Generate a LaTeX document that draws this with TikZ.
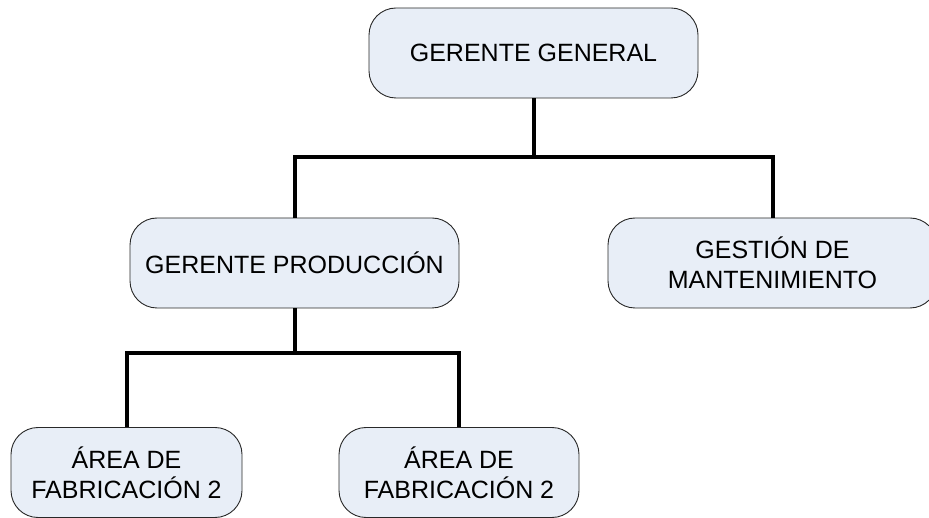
\documentclass[tikz,border=0pt]{standalone}
\usepackage{fontspec}
\setmainfont{Liberation Sans}
\definecolor{boxfill}{RGB}{232,238,247}
\definecolor{boxline}{RGB}{40,40,40}
\begin{document}
\begin{tikzpicture}[x=1pt,y=-1pt,line join=miter,
  cargo/.style={draw=boxline,line width=0.9pt,fill=boxfill,rounded corners=27pt,
    minimum height=90pt,inner sep=0pt,align=center,
    font=\fontsize{25}{30}\selectfont},
  enlace/.style={line width=4pt,black}]
 \useasboundingbox(0,0)rectangle(929,518);
 \node[cargo,minimum width=329pt](gg)at(533.5,53){GERENTE GENERAL};
 \node[cargo,minimum width=329pt](gp)at(294.5,263){GERENTE PRODUCCIÓN};
 \node[cargo,minimum width=329pt](gm)at(772.5,263){GESTIÓN DE\\MANTENIMIENTO};
 \node[cargo,minimum width=231pt](a1)at(126.5,472.5){ÁREA DE\\FABRICACIÓN 2};
 \node[cargo,minimum width=240pt](a2)at(459,472.5){ÁREA DE\\FABRICACIÓN 2};
 \coordinate(j1)at([yshift=-59pt]gg.south);
 \coordinate(j2)at([yshift=-45pt]gp.south);
 \draw[enlace](gg.south)--(j1)-|(gp.north);
 \draw[enlace](j1)-|(gm.north);
 \draw[enlace](gp.south)--(j2)-|(a1.north);
 \draw[enlace](j2)-|(a2.north);
\end{tikzpicture}
\end{document}
